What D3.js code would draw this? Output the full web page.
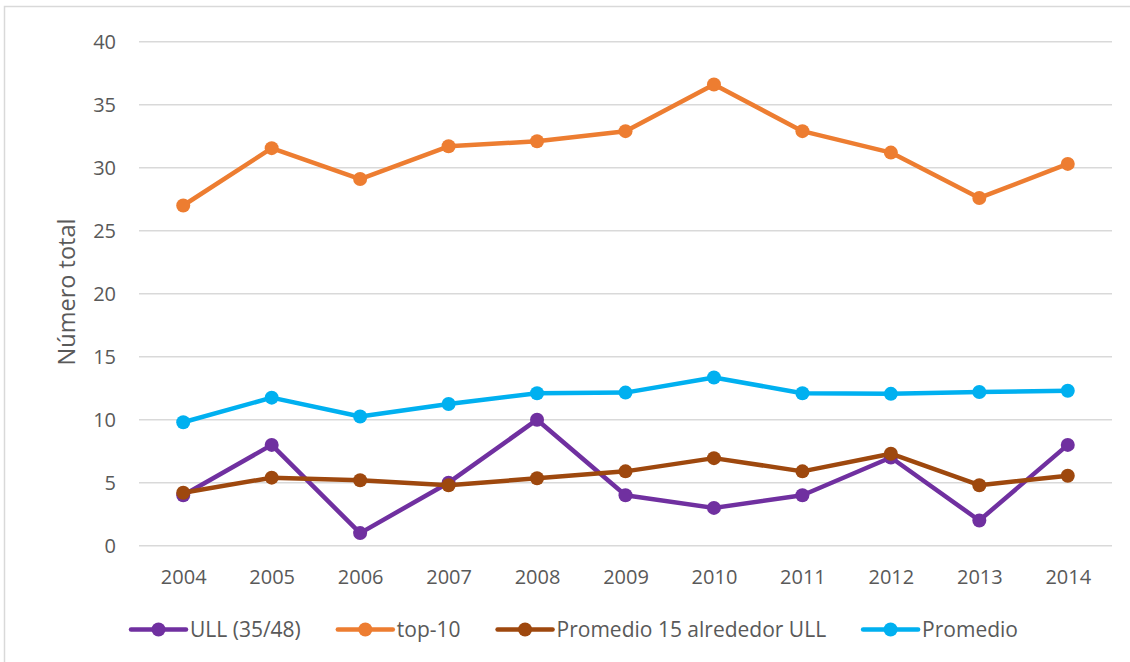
<!DOCTYPE html>
<html>
<head>
<meta charset="utf-8">
<script src="https://cdn.jsdelivr.net/npm/d3@7"></script>
<style>
  body { margin: 0; background: #fff; }
  svg { display: block; }
  .axis text { font-family: "Open Sans", sans-serif; font-size: 20px; fill: #595959; }
  .axis path, .axis line { display: none; }
</style>
</head>
<body>
<div id="chart"></div>
<script>
// data
let years = ["2004","2005","2006","2007","2008","2009","2010","2011","2012","2013","2014"];
let ull = [4, 8, 1, 5, 10, 4, 3, 4, 7, 2, 8];
let top10 = [27.0, 31.55, 29.1, 31.7, 32.1, 32.9, 36.6, 32.9, 31.2, 27.6, 30.3];
let promedio15 = [4.2, 5.4, 5.2, 4.8, 5.35, 5.9, 6.95, 5.9, 7.3, 4.8, 5.55];
let promedio = [9.8, 11.75, 10.25, 11.25, 12.1, 12.15, 13.35, 12.1, 12.05, 12.2, 12.3];
let yTicks = [0, 5, 10, 15, 20, 25, 30, 35, 40];

let seriesNames = ["ULL (35/48)", "top-10", "Promedio 15 alrededor ULL", "Promedio"];
let seriesValues = [ull, top10, promedio15, promedio];
let palette = ["#7030A0", "#ED7D31", "#9E480E", "#00B0F0"];

let W = 1130, H = 662;
let margin = {top: 41.7, right: 18, bottom: 116.3, left: 139};

let svg = d3.select("#chart").append("svg")
  .attr("width", W)
  .attr("height", H);

// chart frame
svg.append("rect")
  .attr("x", 4.5).attr("y", 6.5)
  .attr("width", W + 10).attr("height", H + 10)
  .attr("fill", "none")
  .attr("stroke", "#d9d9d9")
  .attr("stroke-width", 1.5);

let x = d3.scalePoint()
  .domain(years)
  .range([margin.left, W - margin.right])
  .padding(0.5);

let y = d3.scaleLinear()
  .domain([0, 40])
  .range([H - margin.bottom, margin.top]);

// gridlines
svg.append("g").selectAll("line")
  .data(yTicks)
  .enter().append("line")
  .attr("x1", margin.left)
  .attr("x2", W - margin.right)
  .attr("y1", d => y(d))
  .attr("y2", d => y(d))
  .attr("stroke", "#d9d9d9")
  .attr("stroke-width", 1.5);

// y axis labels
svg.append("g")
  .attr("class", "axis")
  .attr("transform", "translate(" + (margin.left - 23) + ",0)")
  .call(d3.axisLeft(y).tickValues(yTicks).tickSize(0).tickPadding(0))
  .selectAll("text").attr("dy", "0.36em");

// x axis labels
svg.append("g")
  .attr("class", "axis")
  .attr("transform", "translate(0," + (H - margin.bottom) + ")")
  .call(d3.axisBottom(x).tickSize(0).tickPadding(24));

// y title
svg.append("text")
  .attr("transform", "translate(75," + 292 + ") rotate(-90)")
  .attr("text-anchor", "middle")
  .style("font-family", "'Open Sans', sans-serif")
  .style("font-size", "23.5px")
  .style("fill", "#595959")
  .text("Número total");

let line = d3.line()
  .x((d, i) => x(years[i]))
  .y(d => y(d));

seriesValues.forEach(function(vals, k) {
  let g = svg.append("g");
  g.append("path")
    .datum(vals)
    .attr("d", line)
    .attr("fill", "none")
    .attr("stroke", palette[k])
    .attr("stroke-width", 4.5)
    .attr("stroke-linejoin", "round");
  g.selectAll("circle")
    .data(vals)
    .enter().append("circle")
    .attr("cx", (d, i) => x(years[i]))
    .attr("cy", d => y(d))
    .attr("r", 7)
    .attr("fill", palette[k]);
});

// legend
let legend = svg.append("g").attr("transform", "translate(131,629.5)");
let lx = 0;
seriesNames.forEach(function(name, k) {
  let item = legend.append("g").attr("transform", "translate(" + lx + ",0)");
  item.append("line")
    .attr("x1", 0).attr("x2", 55)
    .attr("y1", 0).attr("y2", 0)
    .attr("stroke", palette[k])
    .attr("stroke-width", 4.5)
    .attr("stroke-linecap", "round");
  item.append("circle")
    .attr("cx", 27.5).attr("cy", 0).attr("r", 7)
    .attr("fill", palette[k]);
  let t = item.append("text")
    .attr("x", 59)
    .attr("y", 7.5)
    .style("font-family", "'Open Sans', sans-serif")
    .style("font-size", "21px")
    .style("fill", "#595959")
    .text(name);
  lx += 59 + t.node().getComputedTextLength() + 37;
});
</script>
</body>
</html>
